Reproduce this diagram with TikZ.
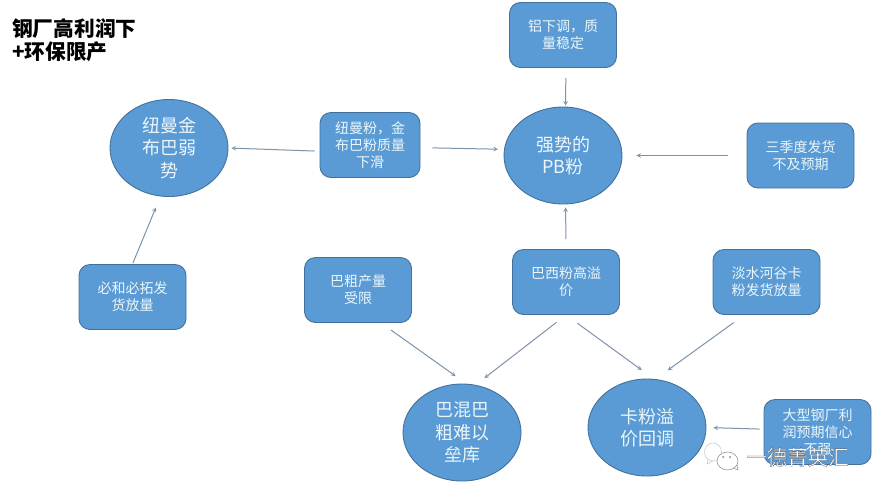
\documentclass[tikz,border=0pt]{standalone}
\usepackage{fontspec}
\setmainfont{Noto Sans CJK SC}
\newfontfamily\markfont[FakeBold=1]{Noto Sans CJK SC}
\usetikzlibrary{shapes.geometric}

\definecolor{nodefill}{HTML}{5B9BD5}
\definecolor{nodeline}{HTML}{41719C}
\definecolor{nodetext}{HTML}{EAF6FA}
\definecolor{flowline}{HTML}{7C93AC}

\tikzset{
	boxnode/.style={draw=nodeline, fill=nodefill, line width=0.9pt, rounded corners=11pt, minimum width=107pt, minimum height=65pt, inner sep=0pt, align=center, text=nodetext, font=\fontsize{14}{17}\selectfont},
	ballnode/.style={ellipse, draw=nodeline, fill=nodefill, line width=0.9pt, minimum width=118pt, minimum height=97pt, inner sep=0pt, align=center, text=nodetext, font=\fontsize{18}{22.5}\selectfont},
	flow/.style={->, flowline, line width=1pt, -stealth},
}

\begin{document}
\begin{tikzpicture}[x=1pt, y=-1pt]
	\useasboundingbox (0,0) rectangle (880,496);
	\fill[white] (0,0) rectangle (880,496);

	\node[anchor=north west, inner sep=0pt, align=left, font=\fontsize{20.7}{23}\selectfont\bfseries] (title) at (12,18) {钢厂高利润下\\+环保限产};

	\node[boxnode] (lv) at (563,35) {铝下调，质\\量稳定};
	\node[boxnode, minimum width=100pt] (niuman) at (370,145) {纽曼粉，金\\布巴粉质量\\下滑};
	\node[boxnode] (sanji) at (800.5,155.5) {三季度发货\\不及预期};
	\node[boxnode] (baxi) at (566,282) {巴西粉高溢\\价};
	\node[boxnode] (bacu) at (358,290) {巴粗产量\\受限};
	\node[boxnode] (danshui) at (766.5,282) {淡水河谷卡\\粉发货放量};
	\node[boxnode] (bihe) at (132.5,297) {必和必拓发\\货放量};
	\node[boxnode] (gangchang) at (817.5,432) {大型钢厂利\\润预期信心\\不强};

	\node[ballnode] (pb) at (563,155.5) {强势的\\PB粉};
	\node[ballnode] (jinbuba) at (169,148) {纽曼金\\布巴弱\\势};
	\node[ballnode] (bahun) at (462,432.5) {巴混巴\\粗难以\\垒库};
	\node[ballnode] (kafen) at (647,427.5) {卡粉溢\\价回调};

	\draw[flow, shorten <=10pt, shorten >=1pt] (lv.-85) -- (pb.87);
	\draw[flow, shorten <=5pt, shorten >=3pt] (niuman.187) -- (jinbuba.0);
	\draw[flow, shorten <=12pt, shorten >=6pt] (niuman.-3) -- (pb.174);
	\draw[flow, shorten <=19pt, shorten >=14pt] (sanji.west) -- (pb.east);
	\draw[flow, shorten <=10pt, shorten >=3pt] (baxi.north) -- (pb.-87);
	\draw[flow, shorten <=1pt, shorten >=12pt] (bihe.north) -- (jinbuba.-100);

	\draw[flow, shorten <=12pt, shorten >=13pt] (bacu.-55) -- (bahun.85);
	\draw[flow, shorten <=12pt, shorten >=11pt] (baxi.south) -- (bahun.74);
	\draw[flow, shorten <=14pt, shorten >=15pt] (baxi.south) -- (kafen.82);
	\draw[flow, shorten <=13pt, shorten >=15pt] (danshui.236) -- (kafen.80);
	\draw[flow, shorten <=4pt, shorten >=7pt] (gangchang.177) -- (kafen.0);

	%watermark
	\draw[gray!45, line width=0.5pt] (713,452) ellipse (8.5 and 9) (708,459)--(707,464)--(713,461);
	\draw[draw=gray!80, fill=white, line width=0.6pt] (727.5,461) ellipse (10.5 and 9) (733,468)--(738,470)--(737,465);
	\fill[gray] (723,457) circle (1) (730,457) circle (1);
	\node[anchor=west, inner sep=0pt, font=\markfont\fontsize{20.5}{24}\selectfont] (mark) at (746,457) {\color{white}\special{pdf:code 0.25 G}一德菁英汇};
\end{tikzpicture}
\end{document}
